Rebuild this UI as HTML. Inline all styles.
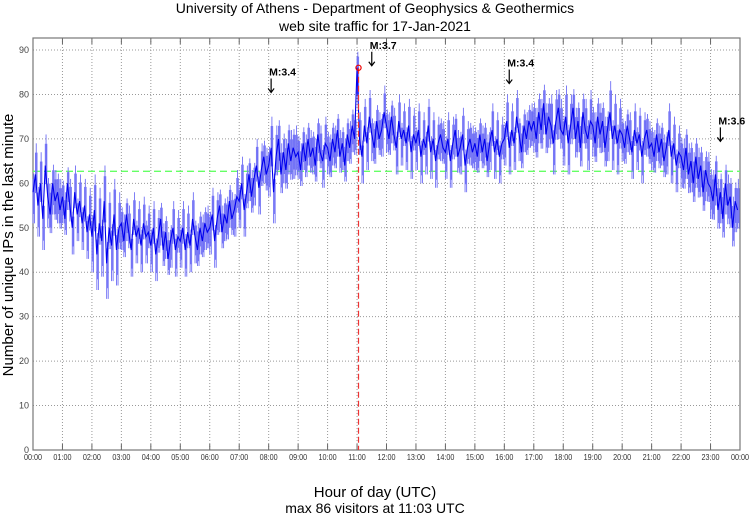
<!DOCTYPE html>
<html><head><meta charset="utf-8"><style>
body{margin:0;background:#fff;font-family:"Liberation Sans",sans-serif}
svg text{font-family:"Liberation Sans",sans-serif}
</style></head><body>
<svg id="c" width="750" height="515" xmlns="http://www.w3.org/2000/svg">
<text x="375" y="13" text-anchor="middle" font-size="14">University of Athens - Department of Geophysics &amp; Geothermics</text>
<text x="375" y="31" text-anchor="middle" font-size="14">web site traffic for 17-Jan-2021</text>
<text transform="translate(13,245) rotate(-90)" text-anchor="middle" font-size="15">Number of unique IPs in the last minute</text>
<text x="375" y="497" text-anchor="middle" font-size="15">Hour of day (UTC)</text>
<text x="375" y="513" text-anchor="middle" font-size="14">max 86 visitors at 11:03 UTC</text>
<g id="grid"></g><g id="series"></g><g id="ann"></g>
</svg>
<script>
const hourLabels=["00:00","01:00","02:00","03:00","04:00","05:00","06:00","07:00","08:00","09:00","10:00","11:00","12:00","13:00","14:00","15:00","16:00","17:00","18:00","19:00","20:00","21:00","22:00","23:00","00:00"];
const yTicks=[0,10,20,30,40,50,60,70,80,90];
const visitors=[
58,62,55,60,52,64,57,53,60,56,58,54,
57,52,60,55,50,58,53,56,51,55,49,53,
48,54,44,51,47,56,42,50,46,53,45,50,
51,47,53,49,45,52,48,50,46,51,48,49,
46,50,44,48,52,45,49,43,47,50,45,48,
47,50,45,49,46,52,48,45,50,47,51,49,
50,53,47,52,55,49,53,51,56,52,54,57,
56,60,54,58,62,57,61,64,59,63,66,62,
64,68,58,66,70,62,67,63,69,65,68,66,
67,63,69,65,70,66,68,64,71,67,65,69,
68,65,70,67,72,66,69,64,71,68,73,70,
86,70,66,73,69,75,71,68,74,70,72,76,
73,70,75,71,68,74,70,72,69,73,67,71,
69,72,66,70,68,73,67,70,65,69,71,68,
67,70,65,69,72,66,68,71,64,68,70,67,
69,66,71,67,70,65,69,72,67,70,66,69,
70,74,68,72,69,75,71,67,73,70,74,72,
74,70,76,72,78,71,75,73,69,74,77,72,
71,75,69,73,77,70,74,68,76,72,70,74,
73,69,75,71,74,68,72,76,70,73,69,72,
71,68,73,70,67,72,69,71,66,70,72,68,
69,66,71,67,70,65,68,72,66,69,64,67,
66,63,68,62,65,60,66,61,64,58,63,60,
59,56,62,54,58,52,60,55,57,50,56,54];
const hourlySpread=[7,6,8,6,6,6,6,6,7,6,6,6,6,6,6,6,6,7,7,7,6,6,7,7];
const stepMinutes=5;
const avgLine=62.7;
const maxValue=86, maxMinute=663;
const quakeLabels=["M:3.4","M:3.7","M:3.4","M:3.6"];
const quakeMinutes=[485,690,970,1400];
const quakeValues=[80,86,82,69];

const L=33,R=740,T=38,B=450,YMAX=92.7;
const xs=m=>L+(R-L)*m/1440;
const ys=v=>B-(B-T)*v/YMAX;
const NS="http://www.w3.org/2000/svg";
function mk(p,tag,a){const e=document.createElementNS(NS,tag);for(const k in a)e.setAttribute(k,a[k]);p.appendChild(e);return e;}
const g=document.getElementById('grid');
yTicks.forEach(v=>{
 if(v>0){const l=mk(g,'line',{x1:L,x2:R,y1:ys(v),y2:ys(v),stroke:'#999','stroke-dasharray':'1,2','stroke-width':1});
 
 }
 const t=mk(g,'text',{x:L-4,y:ys(v)+3,'text-anchor':'end','font-size':9,fill:'#444'});t.textContent=v;
 
 
});
hourLabels.forEach((h,i)=>{
 const x=xs(i*60);
 if(i>0&&i<24){const l=mk(g,'line',{x1:x,x2:x,y1:T,y2:B,stroke:'#999','stroke-dasharray':'1,2','stroke-width':1});
 
 
 mk(g,'line',{x1:x,x2:x,y1:B,y2:B-6,stroke:'#666'});mk(g,'line',{x1:x,x2:x,y1:T,y2:T+6,stroke:'#666'});}
 const t=mk(g,'text',{x:x,y:460,'text-anchor':'middle','font-size':8.5,fill:'#333',transform:`translate(${x},0) scale(0.85,1) translate(${-x},0)`});t.textContent=h;
 
 
});
const fr=mk(g,'rect',{x:L,y:T,width:R-L,height:B-T,fill:'none',stroke:'#777','stroke-width':1.2});


const s=document.getElementById('series');
const av=mk(s,'line',{x1:L,x2:R,y1:ys(avgLine),y2:ys(avgLine),stroke:'#6f6','stroke-width':1.3,'stroke-dasharray':'7,4'});


// per-minute spread (light blue) around each sample
visitors.forEach((v,i)=>{
 const sp=hourlySpread[Math.floor(i*stepMinutes/60)];
 const up=(i%2?sp:sp*0.6), dn=(i%2?sp*0.6:sp);
 for(let k=0;k<3;k++){
  const x=xs(i*stepMinutes+k*1.6);
  const r=mk(s,'line',{x1:x,x2:x,y1:ys(v+up*(k===1?1:0.7)),y2:ys(v-dn*(k===1?0.7:1)),stroke:'#6f6ff5','stroke-width':0.9});
  
  
 }
});
const pts=visitors.map((v,i)=>xs(i*stepMinutes)+','+ys(v)).join(' ');
const pl=mk(s,'polyline',{points:pts,fill:'none',stroke:'#0000ee','stroke-width':1.1});


const mx=xs(maxMinute);
const ml=mk(s,'line',{x1:mx,x2:mx,y1:ys(maxValue),y2:B,stroke:'#e33','stroke-width':1.2,'stroke-dasharray':'6,3'});


const mc=mk(s,'circle',{cx:mx,cy:ys(maxValue),r:2.6,fill:'none',stroke:'#e00','stroke-width':1.2});


const a=document.getElementById('ann');
quakeLabels.forEach((lb,i)=>{
 const x=xs(quakeMinutes[i]),y=ys(quakeValues[i]);
 const t=mk(a,'text',{x:x-2,y:y-19,'font-size':10.5,'font-weight':'bold'});t.textContent=lb;
 
 
 const ar=mk(a,'path',{d:`M${x},${y-16} V${y-2} M${x-3},${y-6} L${x},${y-2} L${x+3},${y-6}`,fill:'none',stroke:'#000','stroke-width':1.2});
 
 
});
</script>
</body></html>
